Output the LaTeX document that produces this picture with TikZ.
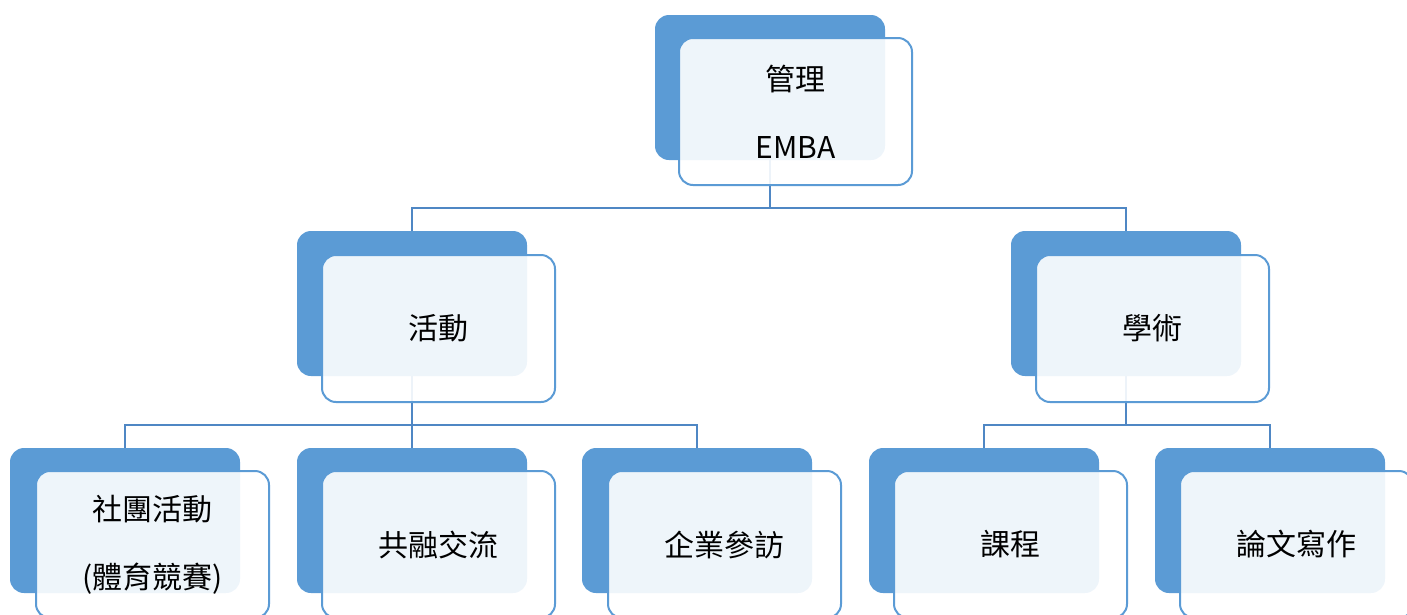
\documentclass[tikz,border=0pt]{standalone}
\usepackage{fontspec}
\setmainfont{Noto Sans CJK TC}
\definecolor{darkblue}{HTML}{5B9BD5}
\definecolor{connblue}{HTML}{4F87C4}
\begin{document}
\begin{tikzpicture}[x=1pt,y=-1pt,
  darkbox/.style={rectangle, rounded corners=14pt, fill=darkblue, draw=none,
    minimum width=230pt, minimum height=145pt, inner sep=0pt, outer sep=0pt, anchor=north west},
  frontbox/.style={rectangle, rounded corners=14pt, fill=white, fill opacity=0.9, text opacity=1,
    draw=darkblue, line width=2pt, minimum width=233pt, minimum height=147pt,
    inner sep=0pt, outer sep=0pt, anchor=north west, align=center,
    font=\fontsize{30}{68}\selectfont, text=black},
  conn/.style={draw=connblue, line width=2.4pt}]
\useasboundingbox (0,0) rectangle (1407,614);
\clip (0,0) rectangle (1407,614);
% dark boxes
\node[darkbox] (top) at (655,15) {};
\node[darkbox] (act) at (297,231) {};
\node[darkbox] (aca) at (1011,231) {};
\node[darkbox] (club) at (10,448) {};
\node[darkbox] (fus) at (297,448) {};
\node[darkbox] (ent) at (582,448) {};
\node[darkbox] (cour) at (869,448) {};
\node[darkbox] (thes) at (1155,448) {};
% connectors
\draw[conn] (top.south) -- ++(0,48) -| (act.north);
\draw[conn] (top.south) -- ++(0,48) -| (aca.north);
\draw[conn] (act.south) -- ++(0,49) -| (club.north);
\draw[conn] (act.south) -- (fus.north);
\draw[conn] (act.south) -- ++(0,49) -| (ent.north);
\draw[conn] (aca.south) -- ++(0,49) -| (cour.north);
\draw[conn] (aca.south) -- ++(0,49) -| (thes.north);
% front boxes
\node[frontbox] (topf) at (679,38) {管理\\EMBA};
\node[frontbox] (actf) at (322,255) {活動};
\node[frontbox] (acaf) at (1036,255) {學術};
\node[frontbox] (clubf) at (36,471) {社團活動\\(體育競賽)};
\node[frontbox] (fusf) at (322,471) {共融交流};
\node[frontbox] (entf) at (608,471) {企業參訪};
\node[frontbox] (courf) at (894,471) {課程};
\node[frontbox] (thesf) at (1180,471) {論文寫作};
\end{tikzpicture}
\end{document}
